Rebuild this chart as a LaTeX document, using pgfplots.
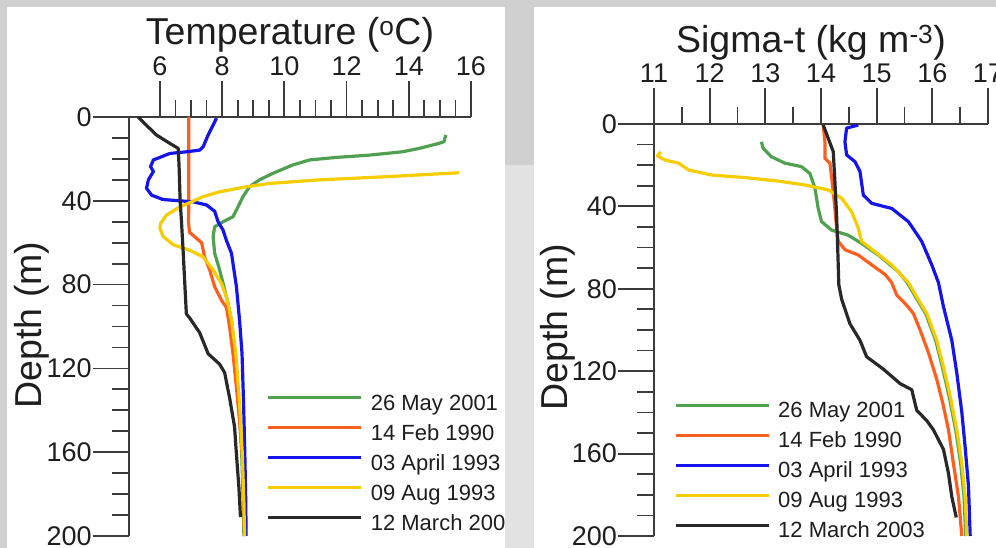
\documentclass[border=0pt]{standalone}
\usepackage{fontspec}
\setmainfont{Liberation Sans}
\usepackage{pgfplots}
\pgfplotsset{compat=1.18}
\definecolor{cgreen}{RGB}{80,160,80}
\definecolor{corange}{RGB}{255,95,30}
\definecolor{cblue}{RGB}{20,20,235}
\definecolor{cyellow}{RGB}{245,205,0}
\definecolor{cblack}{RGB}{40,40,40}
\definecolor{axc}{RGB}{60,60,60}
\definecolor{txt}{RGB}{30,30,30}
\definecolor{bggray}{RGB}{208,208,208}
\definecolor{bglight}{RGB}{226,226,226}
\pgfplotsset{
  ln/.style={line width=3.2pt, line join=round},
  panel/.style={
    scale only axis,
    y dir=reverse, ymin=0, ymax=200, ytick={0,40,...,200}, minor y tick num=3,
    axis x line=top, axis y line=left,
    axis line style={-, line width=1.8pt, color=axc},
    tick align=outside,
    major tick length=36pt, minor tick length=17pt,
    tick style={line width=1.8pt, color=axc},
    tick label style={font=\fontsize{27}{29}\selectfont, text=txt, inner sep=0pt},
    /pgf/number format/assume math mode=true,
    x tick label style={yshift=5pt},
    y tick label style={xshift=-1pt},
    label style={font=\fontsize{37.5}{40}\selectfont, text=txt},
    legend cell align=left,
    legend image code/.code={\draw[##1, line width=3pt] (0pt,7pt) -- (93pt,7pt);},
    legend style={draw=none, fill=none, inner sep=0pt, row sep=9pt,
      nodes={inner sep=0pt, text height=16pt, text depth=5pt, font=\fontsize{22}{24}\selectfont, text=txt},
      /tikz/every odd column/.style={column sep=8pt}},
  }
}
\begin{document}
\begin{tikzpicture}
\path[use as bounding box] (0pt,0pt) rectangle (996pt,548pt);
\fill[bggray] (0pt,0pt) rectangle (996pt,548pt);
\fill[white] (7pt,0pt) rectangle (505pt,541pt);
\fill[white] (534pt,0pt) rectangle (996pt,541pt);

\begin{axis}[panel, at={(128.8pt,12pt)}, anchor=south west,
  width=342.2pt, height=419pt,
  xmin=5, xmax=16, xtick={6,8,...,16}, minor x tick num=3,
  xlabel={Temperature (\textsuperscript{o}C)},
  xlabel style={at={(axis description cs:0.471,1.195)}, anchor=center},
  ylabel={Depth (m)},
  ylabel style={at={(axis description cs:-0.283,0.5036)}, anchor=center},
  legend style={at={(axis cs:9.43,166)}, anchor=west},
]
\addplot[cgreen, ln] coordinates {(15.19,8.6) (15.13,11.8) (14.97,12.6) (14.33,15) (13.8,16.6) (12.73,18.2) (11.66,19.3) (10.81,20.5) (10.27,22.9) (9.63,26.9) (9.2,30) (8.88,33.3) (8.67,38) (8.51,42.9) (8.35,47.6) (8.03,50) (7.76,52.4) (7.71,57) (7.76,65) (7.92,73) (8.03,79.5) (8.19,89) (8.3,97) (8.42,113) (8.54,137) (8.63,161) (8.68,184) (8.70,200)};
\addlegendentry{26 May 2001}
\addplot[corange, ln] coordinates {(6.93,0) (6.93,20) (6.93,40) (6.92,50) (6.95,55) (7.34,60) (7.44,67) (7.6,73) (7.76,81) (7.98,87.5) (8.14,91) (8.24,100) (8.35,113) (8.46,129) (8.56,145) (8.65,161) (8.69,177) (8.72,200)};
\addlegendentry{14 Feb 1990}
\addplot[cblue, ln] coordinates {(7.82,0.6) (7.71,3.8) (7.55,8.6) (7.39,14.2) (7.28,15.8) (6.86,16.6) (6.32,17.4) (5.79,20.5) (5.7,23.7) (5.79,26) (5.63,30) (5.57,34) (5.73,37.3) (6.1,39.4) (6.64,40) (7.07,40.5) (7.5,42) (7.76,45) (7.87,50) (8.03,54) (8.14,59) (8.3,65) (8.46,81) (8.56,97) (8.64,113) (8.69,137) (8.73,161) (8.76,184) (8.77,200)};
\addlegendentry{03 April 1993}
\addplot[cyellow, ln] coordinates {(15.62,26.6) (13.27,28.5) (11.13,30) (9.53,31.7) (8.78,33.3) (7.92,35.7) (7.39,38) (7.02,40.5) (6.64,42.9) (6.21,46.8) (6.02,50.8) (6.0,53) (6.1,57) (6.43,61) (6.96,63.6) (7.39,66.8) (7.71,73) (7.98,79.5) (8.14,86) (8.3,97) (8.44,113) (8.56,137) (8.65,161) (8.7,184) (8.72,200)};
\addlegendentry{09 Aug 1993}
\addplot[cblack, ln] coordinates {(5.3,0) (5.57,4) (5.89,8.6) (6.32,12.6) (6.59,15) (6.62,25) (6.65,40) (6.69,49) (6.75,65) (6.85,94) (6.96,96) (7.28,103) (7.55,113) (7.92,118) (8.08,122) (8.24,134) (8.4,148) (8.46,161) (8.54,177) (8.59,191)};
\addlegendentry{12 March 2003}
\end{axis}

\fill[bggray] (505pt,0pt) rectangle (534pt,548pt);
\fill[bglight] (505pt,0pt) rectangle (534pt,383pt);

\begin{axis}[panel, at={(654pt,12pt)}, anchor=south west,
  width=334pt, height=412pt,
  xmin=11, xmax=17, xtick={11,...,17}, minor x tick num=1,
  xlabel={Sigma-t (kg m\textsuperscript{-3})},
  xlabel style={at={(axis description cs:0.47,1.197)}, anchor=center},
  ylabel={Depth (m)},
  ylabel style={at={(axis description cs:-0.287,0.507)}, anchor=center},
  legend style={at={(axis cs:11.36,169)}, anchor=west},
]
\addplot[cgreen, ln] coordinates {(12.93,8.6) (12.96,11.8) (13.11,15.9) (13.35,19) (13.65,20.7) (13.8,24) (13.89,31) (13.95,41) (14.01,47.4) (14.19,51.5) (14.49,54) (14.73,58) (15.03,63.6) (15.39,71.7) (15.55,77) (15.7,84) (15.88,92) (16.06,105) (16.18,118) (16.3,132) (16.42,148.5) (16.51,165) (16.57,181) (16.6,200)};
\addlegendentry{26 May 2001}
\addplot[corange, ln] coordinates {(14.04,0.5) (14.07,8.6) (14.07,16.7) (14.16,19) (14.2,28) (14.25,41) (14.28,50.6) (14.31,57) (14.43,61) (14.67,63.6) (14.91,68.4) (15.15,73) (15.27,77) (15.36,83) (15.54,88) (15.66,92) (15.78,100) (15.93,111) (16.08,124) (16.2,137) (16.29,148.5) (16.38,165) (16.47,181) (16.53,200)};
\addlegendentry{14 Feb 1990}
\addplot[cblue, ln] coordinates {(14.67,0.5) (14.46,2) (14.43,8.6) (14.46,15) (14.61,18.3) (14.7,23) (14.76,34.5) (14.91,38.5) (15.27,41) (15.57,47.4) (15.81,57) (15.99,68.4) (16.11,77) (16.2,88.7) (16.35,105) (16.44,121) (16.53,140) (16.59,157) (16.65,176) (16.68,200)};
\addlegendentry{03 April 1993}
\addplot[cyellow, ln] coordinates {(11.12,13.5) (11.06,15.5) (11.2,17.5) (11.44,19) (11.62,22.3) (12.04,24.8) (12.63,26) (13.23,27.7) (13.71,29.6) (14.13,32) (14.37,36) (14.55,42.6) (14.67,50.6) (14.73,57) (14.97,62) (15.27,68.4) (15.57,77) (15.72,84) (15.9,92) (16.08,105) (16.2,118) (16.32,132) (16.44,148.5) (16.53,165) (16.59,181) (16.62,200)};
\addlegendentry{09 Aug 1993}
\addplot[cblack, ln] coordinates {(14.04,0.5) (14.22,13.4) (14.25,28) (14.28,44) (14.3,60) (14.32,78) (14.37,85) (14.52,97) (14.7,105) (14.82,113) (15.12,119) (15.42,126) (15.63,129) (15.72,139) (15.9,144) (16.02,148.5) (16.2,158) (16.29,169.6) (16.35,181) (16.43,191)};
\addlegendentry{12 March 2003}
\end{axis}
\end{tikzpicture}
\end{document}
